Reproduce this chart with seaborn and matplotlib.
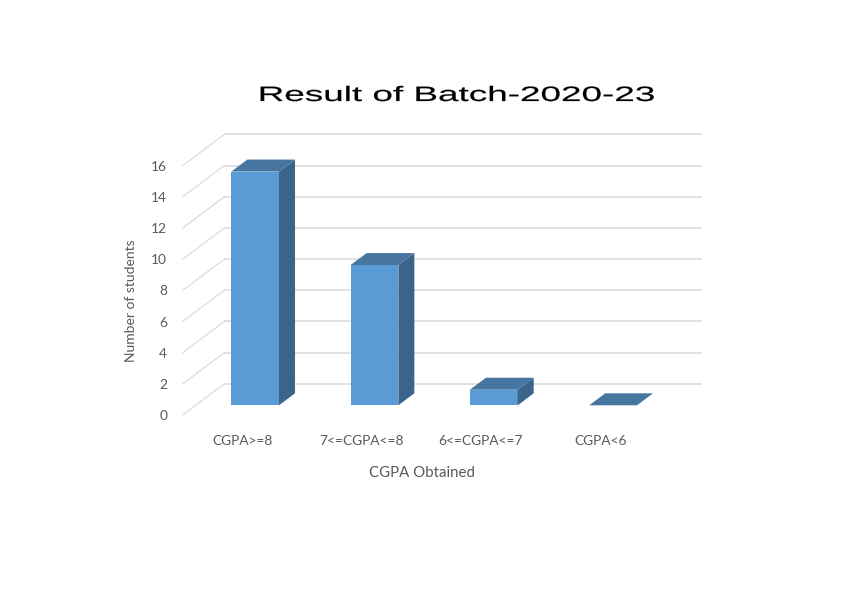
import matplotlib
matplotlib.use("Agg")
import matplotlib.pyplot as plt
import matplotlib.patheffects as pe
from matplotlib.patches import Polygon
from matplotlib.transforms import Affine2D, ScaledTranslation
import pandas as pd
import seaborn as sns

# values
categories = ["CGPA>=8", "7<=CGPA<=8", "6<=CGPA<=7", "CGPA<6"]
students = [15, 9, 1, 0]
y_ticks = [0, 2, 4, 6, 8, 10, 12, 14, 16]

FRONT = "#5B9BD5"
SIDE = "#3B648B"
TOP = "#4675A0"
GRID = "#DCDCDC"
TEXT = "#595959"

W, H = 860, 597


class Stretch(pe.AbstractPathEffect):
    # widens the title glyphs around a centre, the title in the chart is stretched
    def __init__(self, cx, sx, stroke):
        super().__init__()
        self.cx = cx
        self.sx = sx
        self.stroke = stroke

    def draw_path(self, renderer, gc, tpath, affine, rgbFace=None):
        stretch = Affine2D().translate(-self.cx, 0).scale(self.sx, 1).translate(self.cx, 0)
        gc0 = renderer.new_gc()
        gc0.copy_properties(gc)
        gc0.set_linewidth(self.stroke)
        gc0.set_foreground("black")
        renderer.draw_path(gc0, tpath, affine + stretch, rgbFace)
        gc0.restore()


sns.set_theme(style="white")
plt.rcParams["font.family"] = ["Lato", "DejaVu Sans"]

df = pd.DataFrame({"category": categories, "students": students})

fig = plt.figure(figsize=(W / 100, H / 100), dpi=100)
ax = fig.add_axes([195.5 / W, 1 - 405.3 / H, 477.3 / W, 249.3 / H])

sns.barplot(data=df, x="category", y="students", order=categories, color=FRONT,
            saturation=1, width=0.4, linewidth=0, ax=ax, zorder=3)

ax.set_xlim(-0.5, 3.5)
ax.set_ylim(0, 16)
sns.despine(ax=ax, left=True, bottom=True)
ax.patch.set_alpha(0)

# depth of the fake 3D box, in data units (category steps, value units)
bar_dx, bar_dy = 0.134, 0.77
back_dx, back_dy = 0.242, 1.386
front_dx, front_dy = -0.107, -0.62

# back wall gridlines and the diagonal lines on the left wall
for v in y_ticks:
    ax.plot([-0.5 + back_dx, 3.5 + back_dx], [v + back_dy, v + back_dy], color=GRID,
            lw=1.2, clip_on=False, zorder=1, solid_capstyle="butt")
    ax.plot([-0.5 + front_dx, -0.5 + back_dx], [v + front_dy, v + back_dy], color=GRID,
            lw=0.9, clip_on=False, zorder=1)

# top and side faces, taken from the bars seaborn drew
for bar in ax.patches[:len(categories)]:
    x0 = bar.get_x()
    x1 = x0 + bar.get_width()
    h = bar.get_height()
    top = [(x0, h), (x1, h), (x1 + bar_dx, h + bar_dy), (x0 + bar_dx, h + bar_dy)]
    side = [(x1, 0), (x1 + bar_dx, bar_dy), (x1 + bar_dx, h + bar_dy), (x1, h)]
    ax.add_patch(Polygon(side, closed=True, facecolor=SIDE, edgecolor="none", clip_on=False, zorder=3))
    ax.add_patch(Polygon(top, closed=True, facecolor=TOP, edgecolor="none", clip_on=False, zorder=3))

ax.set_yticks(y_ticks)
ax.set_yticklabels(y_ticks)
ax.tick_params(axis="both", length=0, labelsize=9.9, labelcolor=TEXT)
ax.tick_params(axis="y", pad=20.5)
ax.tick_params(axis="x", pad=21.7)

# labels sit on the front edge of the floor, not on the bar plane
y_shift = ScaledTranslation(0, -9.7 / 100, fig.dpi_scale_trans)
x_shift = ScaledTranslation(-13 / 100, 0, fig.dpi_scale_trans)
for lab in ax.get_yticklabels():
    lab.set_transform(lab.get_transform() + y_shift)
for lab in ax.get_xticklabels():
    lab.set_transform(lab.get_transform() + x_shift)

ax.set_xlabel("CGPA Obtained", fontsize=10.8, color=TEXT)
ax.set_ylabel("Number of students", fontsize=10, color=TEXT)
ax.xaxis.set_label_coords((422 - 195.5) / 477.3, (405.3 - 473) / 249.3)
ax.yaxis.set_label_coords((131 - 195.5) / 477.3, (405.3 - 300.5) / 249.3)
ax.xaxis.label.set_verticalalignment("center")
ax.yaxis.label.set_verticalalignment("center")

fig.text(457 / W, 1 - 95.5 / H, "Result of Batch-2020-23", family="Liberation Sans",
         fontsize=15, color="black", ha="center", va="center",
         path_effects=[Stretch(457, 1.77, 0.15)])

fig.savefig("out.png", dpi=100, facecolor="white")
